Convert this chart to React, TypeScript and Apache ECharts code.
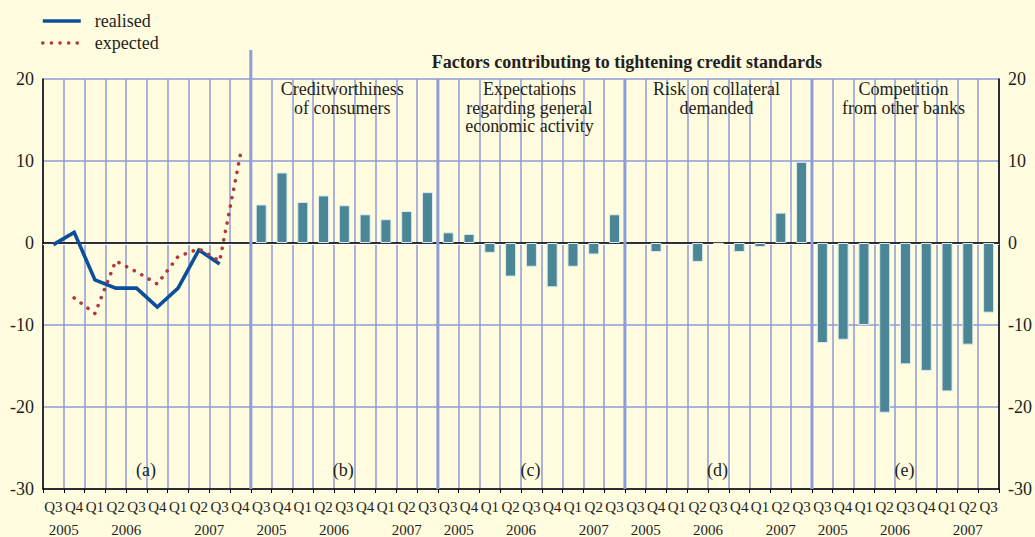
import React, { useEffect, useRef } from 'react';
import * as echarts from 'echarts';

// ---------- data ----------
const panelAQuarters = ['Q3', 'Q4', 'Q1', 'Q2', 'Q3', 'Q4', 'Q1', 'Q2', 'Q3', 'Q4'];
const panelAYears = ['2005', '2005', '2006', '2006', '2006', '2006', '2007', '2007', '2007', '2007'];
const barQuarters = ['Q3', 'Q4', 'Q1', 'Q2', 'Q3', 'Q4', 'Q1', 'Q2', 'Q3'];
const barYears = ['2005', '2005', '2006', '2006', '2006', '2006', '2007', '2007', '2007'];

const realised = [-0.2, 1.3, -4.5, -5.5, -5.5, -7.8, -5.5, -0.85, -2.55, null];
const expected = [null, -6.7, -8.6, -2.2, -3.5, -5.0, -1.65, -0.7, -2.2, 10.8];

const creditworthiness = [4.7, 8.6, 5.0, 5.8, 4.6, 3.5, 2.9, 3.9, 6.2];
const economicActivity = [1.3, 1.1, -1.2, -4.1, -2.9, -5.4, -2.9, -1.4, 3.5];
const collateralRisk = [0, -1.1, 0, -2.3, -0.1, -1.1, -0.5, 3.7, 9.9];
const competition = [-12.2, -11.8, -10.0, -20.7, -14.8, -15.6, -18.1, -12.4, -8.5];

const panelTitles = [
  '',
  'Creditworthiness\nof consumers',
  'Expectations\nregarding general\neconomic activity',
  'Risk on collateral\ndemanded',
  'Competition\nfrom other banks',
];
const panelLetters = ['(a)', '(b)', '(c)', '(d)', '(e)'];
const mainTitle = 'Factors contributing to tightening credit standards';
const yMin = -30;
const yMax = 20;
const yStep = 10;

// ---------- styles ----------
const BG = '#FFFCE0';
const GRID = '#8E9DD8';
const TEXT = '#231F20';
const FONT = '"Liberation Serif", "Times New Roman", serif';

const panels = [
  { quarters: panelAQuarters, years: panelAYears },
  { quarters: barQuarters, years: barYears },
  { quarters: barQuarters, years: barYears },
  { quarters: barQuarters, years: barYears },
  { quarters: barQuarters, years: barYears },
];

const quarterLabels: string[] = [];
const panelOffsets: number[] = [];
const yearMap: Record<string, string> = {};
panels.forEach((p) => {
  const off = quarterLabels.length;
  panelOffsets.push(off);
  p.quarters.forEach((q) => quarterLabels.push(q));
  let s = 0;
  for (let i = 1; i <= p.years.length; i++) {
    if (i === p.years.length || p.years[i] !== p.years[s]) {
      const pos = off + (s + i) / 2;
      yearMap[pos.toFixed(1)] = p.years[s];
      s = i;
    }
  }
});
const total = quarterLabels.length;
const categories = quarterLabels.map((q, i) => `c${i}`);
const nulls = (n: number) => Array.from({ length: n }, () => null);

const realisedData = [...realised, ...nulls(total - realised.length)];
const expectedData = [...expected, ...nulls(total - expected.length)];
const barValues = [
  ...nulls(panelAQuarters.length),
  ...creditworthiness,
  ...economicActivity,
  ...collateralRisk,
  ...competition,
];
const barData = barValues.map((v) =>
  v === 0 ? { value: 0, itemStyle: { borderWidth: 0 } } : v
);

export default function App() {
  const ref = useRef<HTMLDivElement>(null);
  useEffect(() => {
    const chart = echarts.init(ref.current!, null, { renderer: 'svg' });
    const option: any = {
      animation: false,
      backgroundColor: BG,
      textStyle: { fontFamily: FONT, color: TEXT },
      grid: { left: 43, right: 29, top: 79, bottom: 47, containLabel: false },
      legend: {
        orient: 'vertical',
        left: 41,
        top: 12,
        padding: 0,
        itemWidth: 38,
        itemHeight: 14,
        itemGap: 4,
        itemStyle: { opacity: 0 },
        lineStyle: { width: 'inherit', type: 'inherit', cap: 'inherit' },
        textStyle: { fontFamily: FONT, fontSize: 18, color: TEXT, padding: [0, 0, 0, 9] },
        data: ['realised', 'expected'],
      },
      xAxis: [
        {
          type: 'category',
          data: categories,
          boundaryGap: true,
          axisLine: { onZero: false, lineStyle: { color: '#000', width: 1.5 } },
          axisTick: { show: true, interval: 0, length: 4, lineStyle: { color: '#000', width: 1 } },
          axisLabel: {
            interval: 0,
            margin: 10,
            fontFamily: FONT,
            fontSize: 15,
            color: TEXT,
            formatter: (_v: string, i: number) => quarterLabels[i],
          },
          splitLine: { show: true, interval: 0, lineStyle: { color: GRID, width: 1.5 } },
        },
        {
          type: 'value',
          min: 0,
          max: total,
          interval: 0.5,
          position: 'bottom',
          axisLine: { show: false, onZero: false },
          axisTick: { show: false },
          splitLine: { show: false },
          axisLabel: {
            margin: 33,
            fontFamily: FONT,
            fontSize: 15,
            color: TEXT,
            showMinLabel: true,
            showMaxLabel: true,
            formatter: (v: number) => yearMap[v.toFixed(1)] ?? '',
          },
        },
      ],
      yAxis: [
        {
          type: 'value',
          min: yMin,
          max: yMax,
          interval: yStep,
          position: 'left',
          axisLine: { show: true, lineStyle: { color: '#000', width: 1.5 } },
          axisTick: { show: false },
          axisLabel: { margin: 9, fontFamily: FONT, fontSize: 18, color: TEXT },
          splitLine: { show: true, lineStyle: { color: GRID, width: 1.5 } },
        },
        {
          type: 'value',
          min: yMin,
          max: yMax,
          interval: yStep,
          position: 'right',
          axisLine: { show: true, lineStyle: { color: '#000', width: 1.5 } },
          axisTick: { show: false },
          axisLabel: { margin: 9, fontFamily: FONT, fontSize: 18, color: TEXT },
          splitLine: { show: false },
        },
      ],
      series: [
        {
          name: 'realised',
          type: 'line',
          xAxisIndex: 0,
          yAxisIndex: 0,
          data: realisedData,
          symbol: 'none',
          connectNulls: false,
          lineStyle: { color: '#0B4F9C', width: 3.6, join: 'miter' },
          itemStyle: { color: '#0B4F9C' },
          z: 4,
        },
        {
          name: 'expected',
          type: 'line',
          xAxisIndex: 0,
          yAxisIndex: 0,
          data: expectedData,
          symbol: 'none',
          connectNulls: false,
          lineStyle: { color: '#B0393A', width: 3.6, type: [0.1, 8.5], cap: 'round' },
          itemStyle: { color: '#B0393A' },
          z: 4,
        },
        {
          name: 'bars',
          type: 'bar',
          xAxisIndex: 0,
          yAxisIndex: 0,
          data: barData,
          barWidth: 11,
          itemStyle: { color: '#4B8697', borderColor: '#DCEBEF', borderWidth: 1 },
          z: 3,
        },
      ],
    };
    chart.setOption(option);

    const px = (v: number) => chart.convertToPixel({ xAxisIndex: 1 }, v) as number;
    const py = (v: number) => chart.convertToPixel({ yAxisIndex: 0 }, v) as number;
    const yTop = py(yMax);
    const yBot = py(yMin);
    const y0 = py(0);
    const xLeft = px(0);
    const xRight = px(total);
    const elements: any[] = [];
    // zero line (beneath bars)
    elements.push({
      type: 'line',
      z: 1,
      silent: true,
      shape: { x1: xLeft, y1: y0 + 1.3, x2: xRight, y2: y0 + 1.3 },
      style: { stroke: '#FFFFFF', lineWidth: 1.2 },
    });
    elements.push({
      type: 'line',
      z: 1,
      silent: true,
      shape: { x1: xLeft, y1: y0, x2: xRight, y2: y0 },
      style: { stroke: '#000000', lineWidth: 1.4 },
    });
    // panel dividers
    panelOffsets.slice(1).forEach((off, k) => {
      const x = px(off);
      elements.push({
        type: 'line',
        z: 1,
        silent: true,
        shape: { x1: x, y1: k === 0 ? yTop - 29 : yTop, x2: x, y2: yBot },
        style: { stroke: GRID, lineWidth: 3 },
      });
    });
    // main title
    elements.push({
      type: 'text',
      z: 5,
      x: (px(panelOffsets[1]) + xRight) / 2 + 2,
      y: yTop - 17,
      style: {
        text: mainTitle,
        fill: TEXT,
        font: `bold 18px ${FONT}`,
        textAlign: 'center',
        textVerticalAlign: 'middle',
      },
    });
    // panel titles and letters
    panelOffsets.forEach((off, k) => {
      const end = k + 1 < panelOffsets.length ? panelOffsets[k + 1] : total;
      const cx = (px(off) + px(end)) / 2;
      if (panelTitles[k]) {
        elements.push({
          type: 'text',
          z: 5,
          x: cx - 2,
          y: yTop + 1,
          style: {
            text: panelTitles[k],
            fill: TEXT,
            font: `18px ${FONT}`,
            lineHeight: 18.5,
            textAlign: 'center',
            textVerticalAlign: 'top',
          },
        });
      }
      elements.push({
        type: 'text',
        z: 5,
        x: cx - 1,
        y: yBot - 19,
        style: {
          text: panelLetters[k],
          fill: TEXT,
          font: `18px ${FONT}`,
          textAlign: 'center',
          textVerticalAlign: 'middle',
        },
      });
    });
    chart.setOption({ graphic: { elements } });

    return () => chart.dispose();
  }, []);
  return (
    <div
      ref={ref}
      style={{ position: 'fixed', left: 0, top: 0, width: 1035, height: 537, background: BG }}
    />
  );
}
